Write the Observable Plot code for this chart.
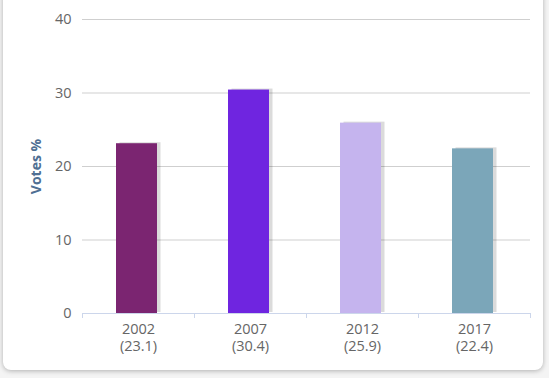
<!DOCTYPE html>
<html>
<head>
<meta charset="utf-8">
<script src="https://cdn.jsdelivr.net/npm/d3@7"></script>
<script src="https://cdn.jsdelivr.net/npm/@observablehq/plot@0.6"></script>
<style>
  html, body { margin: 0; padding: 0; background: #ffffff; }
  #wrap { position: relative; width: 549px; height: 378px; overflow: hidden; background: #f4f4f4; }
  #card { position: absolute; left: 3px; top: -10px; width: 540px; height: 380px; background: #fff;
          border-radius: 8px; box-shadow: 0 1px 5px rgba(0,0,0,0.28); }
  #chart { position: absolute; left: 0; top: 0; }
  #chart svg { font-family: "Open Sans", sans-serif; }
  #chart [aria-label="y-axis tick label"] text,
  #chart [aria-label="x-axis tick label"] text { font-size: 14.5px; fill: #666; }
  #chart [aria-label="y-axis label"] text { font-weight: bold; fill: #4f6f93; font-size: 14px; }
</style>
</head>
<body>
<div id="wrap"><div id="card"></div><div id="chart"></div></div>
<script>
const years = ["2002", "2007", "2012", "2017"];
const votes = [23.1, 30.4, 25.9, 22.4];
const colors = ["#7b2571", "#6f25e0", "#c5b4ee", "#7ba6b9"];
const yTicks = [0, 10, 20, 30, 40];

const data = years.map((y, i) => ({year: y, votes: votes[i], color: colors[i]}));

const W = 549, H = 378, mL = 82, mR = 19, mT = 19, mB = 65;
const step = (W - mL - mR) / years.length;
const barW = 41;
const inset = (step - barW) / 2;

const chart = Plot.plot({
  width: W,
  height: H,
  marginLeft: mL,
  marginRight: mR,
  marginTop: mT,
  marginBottom: mB,
  style: {fontSize: "14.5px", color: "#666", fontFamily: "'Open Sans', sans-serif"},
  x: {domain: years, padding: 0},
  y: {domain: [0, 40]},
  marks: [
    Plot.gridY(yTicks, {stroke: "#cfcfcf", strokeOpacity: 1}),
    // bar shadow
    Plot.barY(data, {x: "year", y: "votes", insetLeft: inset, insetRight: inset, dx: 2, dy: -1, fill: "#000", fillOpacity: 0.14}),
    Plot.barY(data, {x: "year", y: "votes", insetLeft: inset, insetRight: inset, dx: -1.5, fill: "color"}),
    Plot.ruleY([0], {stroke: "#ccd6eb"}),
    Plot.ruleX(years, {x: d => d, dx: -step / 2, y1: 0, y2: 0, insetBottom: -5, stroke: "#ccd6eb"}),
    Plot.ruleX(years.slice(-1), {x: d => d, dx: step / 2, y1: 0, y2: 0, insetBottom: -5, stroke: "#ccd6eb"}),
    Plot.axisY(yTicks, {tickSize: 0, tickPadding: 11,
      label: "Votes %", labelAnchor: "center", labelArrow: "none", labelOffset: 51}),
    Plot.axisX({tickSize: 0, tickPadding: 8, lineHeight: 1.2, label: null,
      tickFormat: (d) => `${d}\n(${votes[years.indexOf(d)]})`})
  ]
});
document.getElementById("chart").appendChild(chart);
</script>
</body>
</html>
